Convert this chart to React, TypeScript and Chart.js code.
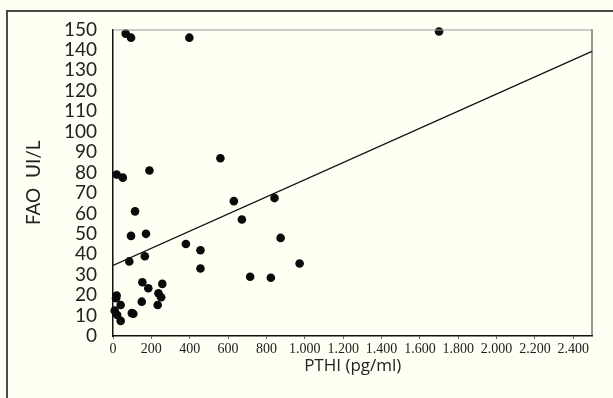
import React, { useEffect, useRef } from "react";
import { Chart, registerables } from "chart.js";

Chart.register(...registerables);

// PTHI (pg/ml) values
const pthiValues = [66, 94, 398, 1700, 19, 51, 190, 560, 630, 842, 115, 94, 172, 85, 166, 380, 456, 456, 672, 874, 715, 823, 973, 153, 184, 257, 237, 251, 233, 150, 98, 106, 19, 16, 40, 9, 22, 40];
// FAO (UI/L) values
const faoValues = [148, 146, 146, 149, 79, 77.5, 81, 87, 66, 67.5, 61, 49, 50, 36.5, 39, 45, 42, 33, 57, 48, 29, 28.5, 35.5, 26.3, 23.4, 25.5, 20.9, 19, 15.2, 16.8, 11.2, 10.9, 19.8, 18.5, 15.2, 12.4, 10.3, 7.4];
// Regression line endpoints
const lineX = [0, 2500];
const lineY = [34.5, 139.4];

// Tick values
const xTickValues = [0, 200, 400, 600, 800, 1000, 1200, 1400, 1600, 1800, 2000, 2200, 2400];
const yTickValues = [0, 10, 20, 30, 40, 50, 60, 70, 80, 90, 100, 110, 120, 130, 140, 150];

const yTitle = "FAO  UI/L";
const xTitle = "PTHI (pg/ml)";

const BG = "#fffff3";

const fmtThousands = (v: number) => {
  const s = String(Math.round(v));
  return s.length > 3 ? s.slice(0, s.length - 3) + "." + s.slice(-3) : s;
};

const boxPlugin = {
  id: "box",
  afterDraw(chart: any) {
    const { ctx, chartArea } = chart;
    ctx.save();
    ctx.lineWidth = 1;
    ctx.strokeStyle = "#9a9a9a";
    ctx.beginPath();
    ctx.moveTo(chartArea.left, chartArea.top + 0.5);
    ctx.lineTo(chartArea.right, chartArea.top + 0.5);
    ctx.stroke();
    ctx.strokeStyle = "#333";
    ctx.beginPath();
    ctx.moveTo(chartArea.right - 0.5, chartArea.top);
    ctx.lineTo(chartArea.right - 0.5, chartArea.bottom);
    ctx.stroke();
    ctx.restore();
  },
};

export default function App() {
  const ref = useRef<HTMLCanvasElement | null>(null);

  useEffect(() => {
    if (!ref.current) return;
    const points = pthiValues.map((x, i) => ({ x, y: faoValues[i] }));
    const line = lineX.map((x, i) => ({ x, y: lineY[i] }));
    const chart = new Chart(ref.current, {
      type: "scatter",
      data: {
        datasets: [
          {
            data: points,
            backgroundColor: "#0a0a0a",
            borderColor: "#0a0a0a",
            pointRadius: 4.3,
            pointBorderWidth: 0,
            clip: false,
          } as any,
          {
            data: line,
            showLine: true,
            borderColor: "#111",
            borderWidth: 1.3,
            pointRadius: 0,
            fill: false,
          } as any,
        ],
      },
      options: {
        animation: false,
        responsive: false,
        devicePixelRatio: 1,
        layout: { padding: { top: 29.5, right: 20.5, left: 0, bottom: 0 } },
        plugins: { legend: { display: false }, tooltip: { enabled: false } },
        scales: {
          x: {
            type: "linear",
            min: 0,
            max: 2500,
            afterBuildTicks: (scale: any) => {
              scale.ticks = xTickValues.map((value) => ({ value }));
            },
            afterFit: (scale: any) => {
              scale.height = 62;
            },
            ticks: {
              color: "#222",
              padding: 2,
              maxRotation: 0,
              autoSkip: false,
              font: { family: "'Liberation Serif', serif", size: 14 },
              callback: (v: any) => fmtThousands(Number(v)),
            },
            grid: { display: true, drawOnChartArea: false, drawTicks: true, tickLength: 3, color: "#666", lineWidth: 1 },
            border: { display: true, color: "#111", width: 1.5 },
            title: {
              display: true,
              text: xTitle,
              color: "#222",
              font: { family: "'Open Sans', 'Noto Sans', sans-serif", size: 17 },
              padding: { top: 0, bottom: 22 },
            },
          },
          y: {
            type: "linear",
            min: 0,
            max: 150,
            afterBuildTicks: (scale: any) => {
              scale.ticks = yTickValues.map((value) => ({ value }));
            },
            afterFit: (scale: any) => {
              scale.width = 113;
            },
            ticks: {
              color: "#222",
              padding: 16,
              autoSkip: false,
              font: { family: "Lato, 'Noto Sans', sans-serif", size: 19 },
            },
            grid: { display: false, drawTicks: false },
            border: { display: true, color: "#111", width: 1.5 },
            title: {
              display: true,
              text: yTitle,
              color: "#222",
              font: { family: "Lato, 'Noto Sans', sans-serif", size: 19 },
              padding: { top: 22, bottom: 0 },
            },
          },
        },
      },
      plugins: [boxPlugin],
    });
    return () => chart.destroy();
  }, []);

  return (
    <div
      style={{
        position: "fixed",
        left: 0,
        top: 0,
        width: 613,
        height: 398,
        background: BG,
        overflow: "hidden",
      }}
    >
      <div
        style={{
          position: "absolute",
          left: 6,
          top: 10,
          width: 700,
          height: 500,
          borderLeft: "2px solid #4a4a4a",
          borderTop: "2px solid #4a4a4a",
        }}
      />
      <canvas
        ref={ref}
        width={613}
        height={398}
        style={{ position: "absolute", left: 0, top: 0, width: 613, height: 398 }}
      />
    </div>
  );
}
